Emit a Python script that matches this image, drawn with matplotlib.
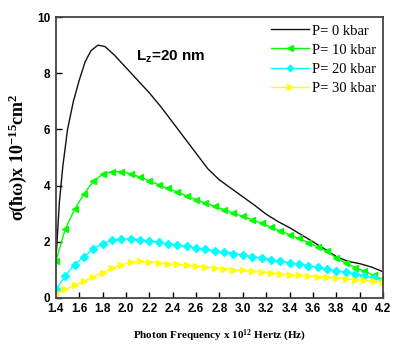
import numpy as np
import matplotlib
matplotlib.use("Agg")
from matplotlib import pyplot as plt

# black curve (P = 0 kbar), no markers
x_p0 = [1.40, 1.43, 1.46, 1.50, 1.55, 1.60, 1.65, 1.70, 1.76, 1.82, 1.90, 2.00,
        2.10, 2.20, 2.30, 2.40, 2.50, 2.60, 2.70, 2.80, 2.90, 3.00, 3.10, 3.20,
        3.30, 3.40, 3.50, 3.60, 3.70, 3.80, 3.90, 4.00, 4.10, 4.20]
y_p0 = [1.3, 3.4, 4.7, 6.0, 7.0, 7.75, 8.4, 8.8, 9.0, 8.95, 8.65, 8.2,
        7.75, 7.3, 6.8, 6.25, 5.7, 5.15, 4.6, 4.2, 3.9, 3.6, 3.3, 2.98,
        2.72, 2.5, 2.25, 2.0, 1.74, 1.47, 1.3, 1.22, 1.1, 0.93]

# marker curves share one frequency grid
x_m = [1.40, 1.48, 1.56, 1.64, 1.72, 1.80, 1.88, 1.96, 2.04, 2.12, 2.20, 2.28,
       2.36, 2.44, 2.52, 2.60, 2.68, 2.76, 2.84, 2.92, 3.00, 3.08, 3.16, 3.24,
       3.32, 3.40, 3.48, 3.56, 3.64, 3.72, 3.80, 3.88, 3.96, 4.04, 4.12, 4.20]
y_p10 = [1.3, 2.45, 3.15, 3.7, 4.15, 4.4, 4.5, 4.5, 4.42, 4.3, 4.17, 4.03,
         3.9, 3.77, 3.63, 3.5, 3.38, 3.26, 3.14, 3.02, 2.9, 2.79, 2.66, 2.52,
         2.38, 2.25, 2.12, 1.97, 1.82, 1.66, 1.42, 1.25, 1.08, 0.95, 0.8, 0.65]
y_p20 = [0.3, 0.78, 1.18, 1.47, 1.74, 1.93, 2.05, 2.1, 2.1, 2.07, 2.03, 1.98,
         1.93, 1.88, 1.83, 1.78, 1.73, 1.68, 1.63, 1.58, 1.53, 1.47, 1.42, 1.36,
         1.31, 1.25, 1.2, 1.15, 1.09, 1.03, 0.97, 0.91, 0.85, 0.79, 0.72, 0.62]
y_p30 = [0.15, 0.3, 0.45, 0.6, 0.75, 0.9, 1.05, 1.18, 1.28, 1.3, 1.28, 1.25,
         1.22, 1.19, 1.16, 1.13, 1.1, 1.07, 1.04, 1.01, 0.98, 0.95, 0.92, 0.89,
         0.86, 0.83, 0.81, 0.78, 0.76, 0.73, 0.71, 0.68, 0.65, 0.62, 0.59, 0.55]

labels = ['P= 0 kbar', 'P= 10 kbar', 'P= 20 kbar', 'P= 30 kbar']
xticks = [1.4, 1.6, 1.8, 2.0, 2.2, 2.4, 2.6, 2.8, 3.0, 3.2, 3.4, 3.6, 3.8, 4.0, 4.2]
yticks = [0, 2, 4, 6, 8, 10]

plt.rcParams.update({'mathtext.default': 'regular'})

fig = plt.figure(figsize=(3.99, 3.48), dpi=100)
ax = fig.add_axes([0.140, 0.144, 0.820, 0.807])

ax.plot(x_p0, y_p0, color='#111111', lw=1.0, label=labels[0])
ax.plot(x_m, y_p10, color='#00ff00', lw=1.0, marker='<', ms=5, label=labels[1])
ax.plot(x_m, y_p20, color='#00ffff', lw=1.0, marker='D', ms=4, label=labels[2])
ax.plot(x_m, y_p30, color='#ffff00', lw=1.0, marker='>', ms=5, label=labels[3])

ax.set_xlim(1.4, 4.2)
ax.set_ylim(0, 10)
ax.set_xticks(xticks)
ax.set_yticks(yticks)
ax.set_xticklabels(['%.1f' % t for t in xticks], fontfamily='Liberation Sans',
                   fontweight='bold', fontsize=8.5)
ax.set_yticklabels([str(t) for t in yticks], fontfamily='Liberation Sans',
                   fontweight='bold', fontsize=8.5)
ax.tick_params(direction='in', length=4, width=1, pad=4)
for s in ax.spines.values():
    s.set_color('#444444')
    s.set_linewidth(1.3)

ax.set_xlabel('Photon Frequency x 10$^{12}$ Hertz (Hz)', fontfamily='Liberation Serif',
              fontweight='bold', fontsize=8, labelpad=9)
ax.set_ylabel('σ(ħω)x 10$^{-15}$cm$^{2}$', fontfamily='Liberation Serif',
              fontweight='bold', fontsize=13, labelpad=6)

ax.text(2.09, 8.58, 'L$_z$=20 nm', fontfamily='Liberation Sans', fontweight='bold',
        fontsize=11, va='center')

leg = ax.legend(loc='upper right', frameon=False, prop={'family': 'Liberation Serif', 'size': 10.5},
                handlelength=2.6, handletextpad=0.2, labelspacing=0.4, numpoints=1,
                borderaxespad=0.1, markerscale=0.8)

plt.savefig('out.png', dpi=100)
